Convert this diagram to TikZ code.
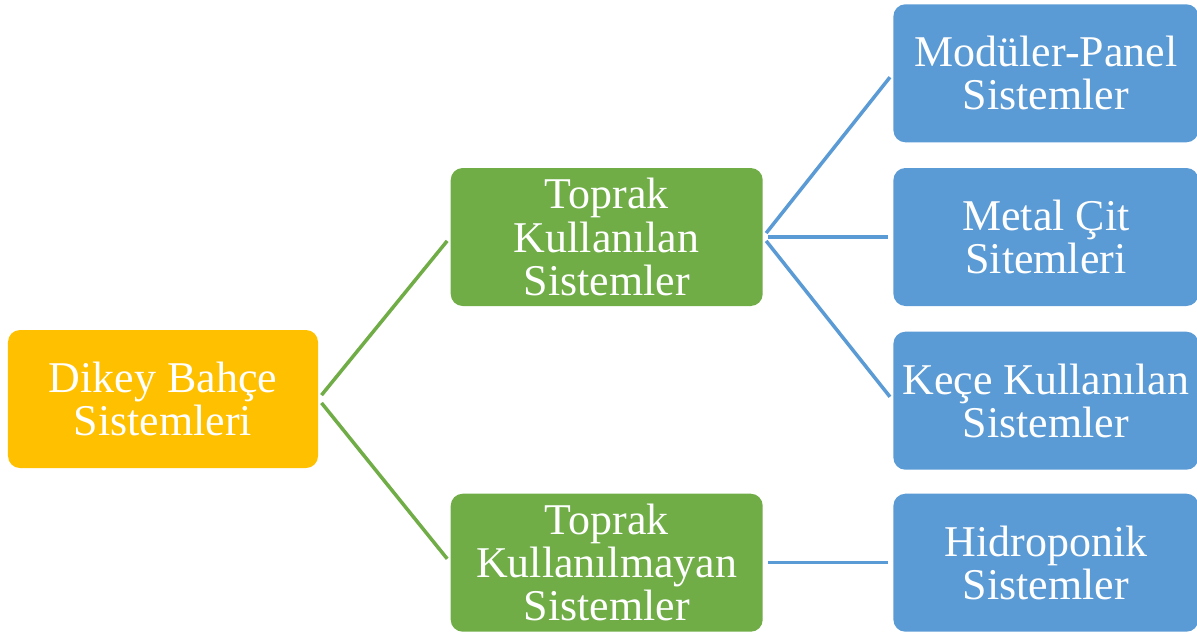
\documentclass[tikz,border=0pt]{standalone}
\usepackage{fontspec}
\setmainfont{Liberation Serif}
\usepackage{xcolor}
\definecolor{rootyellow}{HTML}{FFC000}
\definecolor{soilgreen}{HTML}{70AD47}
\definecolor{sysblue}{HTML}{5B9BD5}
\usetikzlibrary{positioning}

\begin{document}
\begin{tikzpicture}[
    font=\fontsize{25}{24.5}\selectfont\color{white},
    box/.style={
        rectangle, rounded corners=0.24cm,
        minimum width=6.2cm, minimum height=2.76cm,
        inner sep=0pt, align=center,
    },
    rootbox/.style={box, fill=rootyellow},
    greenbox/.style={box, fill=soilgreen, minimum width=6.24cm},
    bluebox/.style={box, fill=sysblue, minimum width=6.1cm},
    link/.style={line width=2pt, shorten <=0.1cm, shorten >=0.1cm},
]
\useasboundingbox (0,0) rectangle (23.94,-12.64);

% -- root --
\node[rootbox] (root) at (3.26,-7.98) {Dikey Bahçe\\Sistemleri};

% -- second level --
\node[greenbox, right=2.64cm of root, yshift=3.24cm] (g1)
    {Toprak\\Kullanılan\\Sistemler};
\node[greenbox, below=3.74cm of g1] (g2)
    {Toprak\\Kullanılmayan\\Sistemler};

% -- third level --
\node[bluebox, right=2.6cm of g1] (b2) {Metal Çit\\Sitemleri};
\node[bluebox, above=0.5cm of b2] (b1) {Modüler-Panel\\Sistemler};
\node[bluebox, below=0.5cm of b2] (b3) {Keçe Kullanılan\\Sistemler};
\node[bluebox, right=2.6cm of g2] (b4) {Hidroponik\\Sistemler};

% -- connectors --
\draw[link, soilgreen] (root.east) -- (g1.west);
\draw[link, soilgreen] (root.east) -- (g2.west);
\foreach \b in {b1,b2,b3}
    \draw[link, sysblue] (g1.east) -- (\b.west);
\draw[link, sysblue] (g2.east) -- (b4.west);

\end{tikzpicture}
\end{document}
